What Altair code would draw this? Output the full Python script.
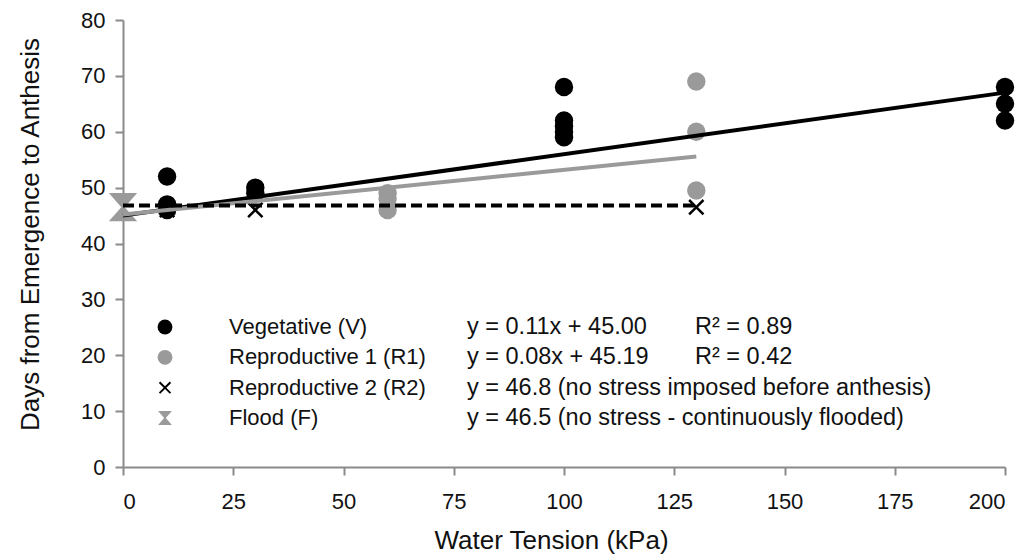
import altair as alt
import pandas as pd

# ---- data ----
series = ["Vegetative (V)", "Reproductive 1 (R1)", "Reproductive 2 (R2)", "Flood (F)"]
colors = ["#000000", "#9a9a9a", "#000000", "#9a9a9a"]

v_x = [10, 10, 10, 30, 30, 100, 100, 100, 100, 100, 200, 200, 200]
v_y = [52, 47, 46, 50, 49, 68, 62, 61, 60, 59, 68, 65, 62]
r1_x = [60, 60, 60, 130, 130, 130]
r1_y = [49, 48, 46, 69, 60, 49.5]
r2_x = [10, 30, 130]
r2_y = [46, 46, 46.5]
f_x = [0]
f_y = [46.5]

# fitted lines (as printed on the chart)
fit_series = ["Vegetative (V)", "Reproductive 1 (R1)", "Reproductive 2 (R2)"]
fit_slope = [0.11, 0.08, 0.0]
fit_intercept = [45.00, 45.19, 46.8]
fit_xmax = [200, 130, 130]

equations = ["y = 0.11x + 45.00", "y = 0.08x + 45.19",
             "y = 46.8 (no stress imposed before anthesis)",
             "y = 46.5 (no stress - continuously flooded)"]
r2_text = ["R\u00b2 = 0.89", "R\u00b2 = 0.42", "", ""]

x_ticks = [0, 25, 50, 75, 100, 125, 150, 175, 200]
y_ticks = [0, 10, 20, 30, 40, 50, 60, 70, 80]

FONT = "Liberation Sans"
X_PATH = "M-1,-0.78L-0.78,-1L0,-0.22L0.78,-1L1,-0.78L0.22,0L1,0.78L0.78,1L0,0.22L-0.78,1L-1,0.78L-0.22,0Z"
HOUR_PATH = "M-1,-1L1,-1L0.12,0L1,1L-1,1L-0.12,0Z"
shapes = ["circle", "circle", X_PATH, HOUR_PATH]

# ---- tables ----
rows = []
for s, xs, ys in [(series[0], v_x, v_y), (series[1], r1_x, r1_y),
                  (series[2], r2_x, r2_y), (series[3], f_x, f_y)]:
    for a, b in zip(xs, ys):
        rows.append({"series": s, "x": a, "y": b})
pts = pd.DataFrame(rows)
sizes = {series[0]: 340, series[1]: 340, series[2]: 260, series[3]: 800}
pts["size"] = pts["series"].map(sizes)
pts["order"] = pts["series"].map({series[1]: 0, series[2]: 1, series[0]: 2, series[3]: 3})

lrows = []
for s, m, c, xm in zip(fit_series, fit_slope, fit_intercept, fit_xmax):
    lrows.append({"series": s, "x": 0, "y": c})
    lrows.append({"series": s, "x": xm, "y": c + m * xm})
lines = pd.DataFrame(lrows)

leg = pd.DataFrame({"series": series, "row": [0, 1, 2, 3],
                    "eq": equations, "r2": r2_text})
leg_sizes = {series[0]: 220, series[1]: 220, series[2]: 150, series[3]: 190}
leg["size"] = leg["series"].map(leg_sizes)

xscale = alt.Scale(domain=[0, 200], nice=False, zero=True)
yscale = alt.Scale(domain=[0, 80], nice=False)
shape_scale = alt.Scale(domain=series, range=shapes)
color_scale = alt.Scale(domain=series, range=colors)

axis_common = dict(grid=False, tickSize=8, domainColor="#8a8a8a", tickColor="#8a8a8a",
                   domainWidth=2, tickWidth=2, labelFontSize=22, titleFontSize=26,
                   labelFont=FONT, titleFont=FONT, titleFontWeight="normal",
                   labelColor="#111", titleColor="#111")

x_enc = alt.X("x:Q", scale=xscale, title="Water Tension (kPa)",
              axis=alt.Axis(values=x_ticks, labelPadding=16,
                            titleX=428, titleY=73, titleAlign="center",
                            titleBaseline="middle", **axis_common))
y_enc = alt.Y("y:Q", scale=yscale, title="Days from Emergence to Anthesis",
              axis=alt.Axis(values=y_ticks, labelPadding=10,
                            titleX=-93, titleY=214, titleAngle=270, titleAlign="center",
                            titleBaseline="middle", **axis_common))

points = alt.Chart(pts).mark_point(filled=True, opacity=1, strokeWidth=0).encode(
    x=x_enc, y=y_enc,
    shape=alt.Shape("series:N", scale=shape_scale, legend=None),
    color=alt.Color("series:N", scale=color_scale, legend=None),
    size=alt.Size("size:Q", scale=None, legend=None),
    order=alt.Order("order:Q"),
)

solid = alt.Chart(lines).transform_filter(
    alt.FieldOneOfPredicate(field="series", oneOf=fit_series[:2])
).mark_line(strokeWidth=4).encode(
    x="x:Q", y="y:Q", detail="series:N",
    color=alt.Color("series:N", scale=color_scale, legend=None),
)
dashed = alt.Chart(lines).transform_filter(
    alt.FieldEqualPredicate(field="series", equal=fit_series[2])
).mark_line(strokeWidth=4, strokeDash=[11, 5], color="#000000").encode(
    x="x:Q", y="y:Q",
)

main = alt.layer(points, solid, dashed)

ly = alt.Y("row:Q", scale=alt.Scale(domain=[0, 3], range=[307, 398]), axis=None)
leg_pts = alt.Chart(leg).mark_point(filled=True, opacity=1, strokeWidth=0).encode(
    x=alt.value(42), y=ly,
    shape=alt.Shape("series:N", scale=shape_scale, legend=None),
    color=alt.Color("series:N", scale=color_scale, legend=None),
    size=alt.Size("size:Q", scale=None, legend=None),
)
name_kw = dict(font=FONT, fontSize=22, align="left", baseline="middle", color="#111")
eq_kw = dict(font=FONT, fontSize=23.5, align="left", baseline="middle", color="#111")
leg_name = alt.Chart(leg).mark_text(**name_kw).encode(x=alt.value(106), y=ly, text="series:N")
leg_eq = alt.Chart(leg).mark_text(**eq_kw).encode(x=alt.value(344), y=ly, text="eq:N")
leg_r2 = alt.Chart(leg).mark_text(**eq_kw).encode(x=alt.value(572), y=ly, text="r2:N")
legend = alt.layer(leg_pts, leg_name, leg_eq, leg_r2)

chart = alt.layer(main, legend).resolve_scale(
    y="independent", shape="shared", color="shared"
).properties(
    width=882, height=447,
    autosize=alt.AutoSizeParams(type="none"),
    padding={"left": 123, "top": 20, "right": 22, "bottom": 91},
    background="white",
).configure_view(stroke=None)

chart.save("out.html", embed_options={"renderer": "svg", "actions": False})
